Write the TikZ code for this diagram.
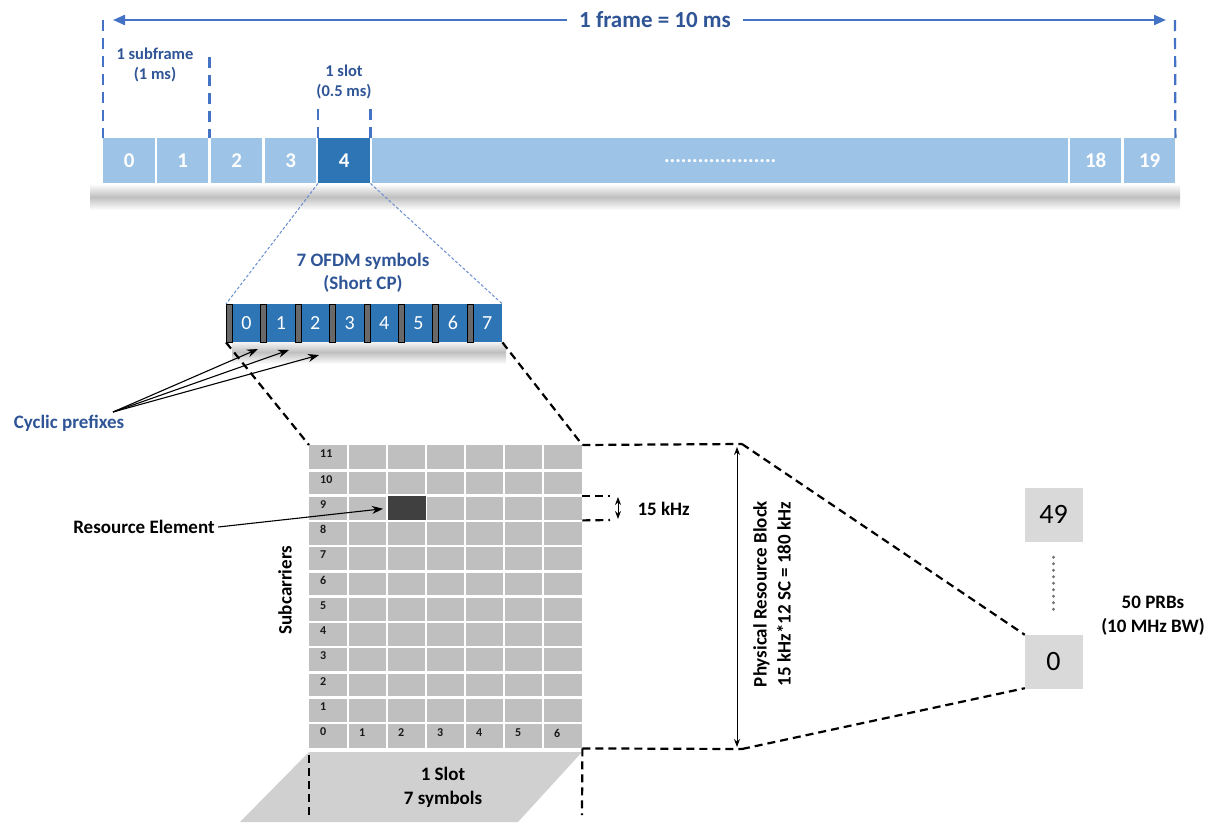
\documentclass[tikz,border=0pt]{standalone}
\usepackage{fontspec}
\setmainfont{Carlito}
\usetikzlibrary{arrows.meta,positioning}

\definecolor{frameblue}{RGB}{157,195,230}
\definecolor{slotblue}{RGB}{46,117,182}
\definecolor{lineblue}{RGB}{68,114,196}
\definecolor{textblue}{RGB}{47,85,151}
\definecolor{regray}{RGB}{191,191,191}
\definecolor{redark}{RGB}{64,64,64}
\definecolor{prbgray}{RGB}{217,217,217}
\definecolor{cpgray}{RGB}{105,105,105}
\definecolor{slotshade}{RGB}{208,208,208}

\newcommand{\fsz}[1]{\fontsize{#1}{#1}\selectfont}

\tikzset{
  frcell/.style={rectangle, fill=frameblue, minimum height=45pt, inner sep=0pt,
    anchor=north west, text=white, font=\fsz{21}\bfseries},
  ofdmbar/.style={rectangle, fill=slotblue, minimum width=276pt, minimum height=38pt,
    inner sep=0pt, anchor=north west},
  cpbox/.style={rectangle, fill=cpgray, draw=black, line width=0.8pt, minimum width=6pt,
    minimum height=38pt, inner sep=0pt, anchor=north west},
  ofdmnum/.style={text=white, font=\fsz{20}, inner sep=0pt},
  gridbox/.style={rectangle, fill=regray, minimum width=273pt, minimum height=303pt,
    inner sep=0pt, anchor=north west},
  gridline/.style={white, line width=2.5pt},
  recell/.style={rectangle, fill=redark, minimum width=38pt, minimum height=24pt,
    inner sep=0pt, anchor=north west},
  gridnum/.style={anchor=west, inner sep=0pt, text=black!90, font=\fsz{12}\bfseries},
  prbbox/.style={rectangle, fill=prbgray, draw=black!15, minimum width=57pt,
    minimum height=53pt, inner sep=0pt, font=\fsz{28}},
  framelbl/.style={fill=white, inner xsep=12pt, text=textblue, font=\fsz{23}\bfseries},
  toplbl/.style={align=center, text=textblue, font=\fontsize{16.5}{20}\selectfont\bfseries},
  ofdmlbl/.style={align=center, text=textblue, font=\fontsize{19}{23}\selectfont\bfseries},
  lbl/.style={align=center, font=\fontsize{19}{24}\selectfont\bfseries},
  framearrow/.style={lineblue, line width=2.2pt,
    {Triangle[length=12pt,width=10pt]}-{Triangle[length=12pt,width=10pt]}},
  bluedash/.style={lineblue, line width=2.2pt, dash pattern=on 11pt off 7pt},
  slotdot/.style={lineblue!80, line width=1pt, dash pattern=on 3pt off 2pt},
  blackdash/.style={black, line width=2.2pt, dash pattern=on 8pt off 5pt},
  ptr/.style={black, line width=1.1pt, -{Stealth[length=11pt,width=8pt]}},
  dimarrow/.style={black, line width=1pt,
    {Stealth[length=8pt,width=6pt]}-{Stealth[length=8pt,width=6pt]}},
  prbdots/.style={black!55, line width=3.2pt, line cap=round, dash pattern=on 0pt off 6.5pt}
}

\begin{document}
\begin{tikzpicture}[x=1pt,y=-1pt]
  \useasboundingbox (0,0) rectangle (1205,825);

  % Frame
  \coordinate (fl) at (113,20);
  \coordinate (fr) at (1166,20);
  \draw[framearrow] (fl) -- (fr);
  \node[framelbl] (frame) at (655,20) {1 frame = 10 ms};

  \shade[top color=white, bottom color=white, middle color=black!25] (90,184) rectangle (1180,210);
  \foreach \n/\xa/\w in {0/103/52, 1/157/51, 2/211/51, 3/265/51, 18/1070/51, 19/1124/51}
    \node[frcell, minimum width=\w pt] (c\n) at (\xa,138) {\n};
  \node[frcell, minimum width=52pt, fill=slotblue] (c4) at (318,138) {4};
  \node[frcell, minimum width=696pt] (cdots) at (372,138) {....................};

  \coordinate (dl) at (103,20);
  \coordinate (dr) at (1175,20);
  \coordinate (dsub) at (209.5,57);
  \draw[bluedash] (dl) -- (c0.north west);
  \draw[bluedash] (dr) -- (c19.north east);
  \draw[bluedash] (dsub) -- (dsub |- c1.north);
  \draw[bluedash] (c4.north west) -- ++(0,-32);
  \draw[bluedash] (c4.north east) -- ++(0,-32);

  \node[toplbl] (sub) at (155,65) {1 subframe\\(1 ms)};
  \node[toplbl] (slot) at (344,82) {1 slot\\(0.5 ms)};

  % OFDM symbols
  \node[ofdmlbl] (ofdmtxt) at (363,273) {7 OFDM symbols\\(Short CP)};
  \shade[top color=white, bottom color=white, middle color=black!25] (232,340) rectangle (506,364);
  \node[ofdmbar] (ofdm) at (226,304) {};
  \foreach \i in {0,...,7} {
    \node[cpbox] (cp\i) at ({226+34.4*\i},304) {};
    \node[ofdmnum] (s\i) at ({246.5+34.4*\i},323) {\i};
  }
  \draw[slotdot] (c4.south west) -- (ofdm.north west);
  \draw[slotdot] (c4.south east) -- (ofdm.north east);

  \node[ofdmlbl] (cyc) at (69,423) {Cyclic prefixes};
  \coordinate (cycfoot) at (113,412);
  \coordinate (tip1) at (258,349);
  \coordinate (tip2) at (289,350);
  \coordinate (tip3) at (319,355);
  \foreach \k in {1,2,3}
    \draw[ptr] (cycfoot) -- (tip\k);

  % Resource grid
  \node[gridbox] (grid) at (309,445) {};
  \foreach \i in {1,...,6}
    \draw[gridline] ({309+39*\i},445) -- ++(0,303);
  \foreach \j in {1,...,11}
    \draw[gridline] (309,{445+25.25*\j}) -- ++(273,0);
  \node[recell] (re) at (388,496) {};
  \foreach \j in {0,...,11}
    \node[gridnum] (r\j) at (320,{454+25.25*(11-\j)}) {\j};
  \foreach \i in {1,...,6}
    \node[gridnum] (k\i) at ({320+39*\i},{733}) {\i};

  \draw[blackdash] (ofdm.south west) -- (grid.north west);
  \draw[blackdash] (ofdm.south east) -- (grid.north east);

  \node[lbl, rotate=90] (subc) at (285,590) {Subcarriers};
  \node[lbl] (retxt) at (144,527) {Resource Element};
  \draw[ptr, shorten >=5pt] (retxt.east) -- (re.west);

  % 15 kHz
  \coordinate (kt) at (610,496);
  \coordinate (kb) at (610,520);
  \draw[blackdash] (grid.east |- re.north) -- (kt);
  \draw[blackdash] (grid.east |- re.south) -- (kb);
  \coordinate (ka) at (618,497);
  \coordinate (kc) at (618,519);
  \draw[dimarrow] (ka) -- (kc);
  \node[lbl, anchor=west] (khz) at (634,509) {15 kHz};

  % PRB
  \coordinate (pt) at (742,444);
  \coordinate (pb) at (742,749);
  \draw[blackdash] (grid.north east) -- (pt);
  \draw[blackdash] (grid.south east) -- (pb);
  \coordinate (pa) at (737,447);
  \coordinate (pc) at (737,747);
  \draw[dimarrow] (pa) -- (pc);
  \node[lbl, rotate=90] (prbtxt) at (772,594) {Physical Resource Block\\15 kHz*12 SC = 180 kHz};

  \node[prbbox] (prb49) at (1053.5,514.5) {49};
  \node[prbbox] (prb0) at (1053.5,661.5) {0};
  \draw[prbdots] ([yshift=-16pt]prb49.south) -- ([yshift=22pt]prb0.north);
  \draw[blackdash] (pt) -- (prb0.north west);
  \draw[blackdash] (pb) -- (prb0.south west);
  \node[lbl] (prbnum) at (1153,616) {50 PRBs\\(10 MHz BW)};

  % Slot
  \fill[slotshade] (309,752) -- (582,752) -- (518,822) -- (240,822) -- cycle;
  \coordinate (sl) at (309,815);
  \coordinate (sr) at (582,815);
  \draw[blackdash] (grid.south west) ++(0,7) -- (sl);
  \draw[blackdash] (grid.south east) -- (sr);
  \node[lbl] (slottxt) at (443,787) {1 Slot\\7 symbols};
\end{tikzpicture}
\end{document}
